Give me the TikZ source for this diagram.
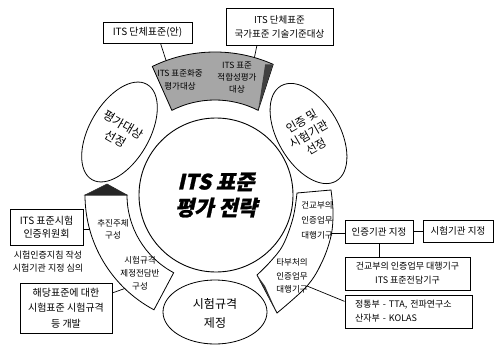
\documentclass[tikz,border=0pt]{standalone}
\usepackage{fontspec}
\setmainfont{Noto Sans CJK KR}
\newfontfamily\cjkbi[FakeSlant=0.22,FakeBold=1.2]{Noto Sans CJK KR}
\usetikzlibrary{shapes.geometric,calc}
\begin{document}
\begin{tikzpicture}[x=1pt,y=-1pt,
  line width=0.8pt,
  box/.style={draw, line width=0.9pt, inner sep=0pt, align=center, font=\fontsize{10}{13}\selectfont},
  seg/.style={draw, line width=0.8pt, fill=white},
  segtxt/.style={align=center, inner sep=0pt, font=\fontsize{8.5}{13.5}\selectfont},
  ell/.style={draw, ellipse, inner sep=0pt, line width=0.8pt},
  elltxt/.style={align=center, inner sep=0pt, font=\fontsize{12}{16}\selectfont},
  conn/.style={line width=0.7pt}
]
\useasboundingbox (0,0) rectangle (494,345);
\coordinate (C) at (215,195);

% top shaded band
\draw[seg, fill=black!35] ($(C)+(-116:143)$) arc[start angle=-116, end angle=-66, radius=143]
  -- ($(C)+(-63:95)$) arc[start angle=-63, end angle=-117, radius=95] -- cycle;
\fill[black!75] ($(C)+(-66:143)$) -- ($(C)+(-63:95)$) -- ($(C)+(-69:140)$) -- cycle;

% left segment
\draw[seg] ($(C)+(180:130)$) arc[start angle=180, end angle=118, radius=130]
  -- ($(C)+(118:88)$) arc[start angle=118, end angle=180, radius=88] -- cycle;
\filldraw[black!85, line width=0.6pt] ($(C)+(180:130)$) -- (107,184) -- ($(C)+(180:88)$) -- cycle;

% right segment
\draw[seg] plot[smooth, tension=0.6] coordinates {(331,190) (333,212) (331,236) (322,262) (307,286) (277,313)}
  -- plot[smooth, tension=0.6] coordinates {(257,275) (270,262) (283,245) (293,218) (297,193)} -- cycle;
\fill[black!80] (257,275) -- (277,313) -- (265,286) -- cycle;

% central circle
\node[draw, circle, minimum size=154pt, inner sep=0pt, line width=0.9pt, align=center,
  font=\cjkbi\bfseries\fontsize{21}{26}\selectfont] (core) at (216,195) {ITS 표준\\평가 전략};

% ellipses
\node[ell, minimum width=60pt, minimum height=110pt, rotate=-30] (e1) at (119.5,132) {};
\node[elltxt, rotate=-30] (t1) at (119.5,132) {평가대상\\선정};
\node[ell, minimum width=62pt, minimum height=110pt, rotate=30] (e2) at (308.5,133.5) {};
\node[elltxt, rotate=30, font=\fontsize{11.5}{14.5}\selectfont] (t2) at (309,134) {인증 및\\시험기관\\선정};
\node[ell, minimum width=104pt, minimum height=64pt] (e3) at (215,312) {};
\node[elltxt, font=\fontsize{12}{19}\selectfont] (t3) at (215,313) {시험규격\\제정};

% texts in segments
\node[segtxt, font=\fontsize{8.5}{12.5}\selectfont] (bt1) at (180,80) {ITS 표준화중\\평가대상};
\node[segtxt, font=\fontsize{8.5}{12}\selectfont] (bt2) at (237,78) {ITS 표준\\적합성평가\\대상};
\node[segtxt, font=\fontsize{8.5}{12}\selectfont] (lt1) at (113,229) {추진주체\\구성};
\node[segtxt, font=\fontsize{8.5}{13}\selectfont] (lt2) at (140,273) {시험규격\\제정전담반\\구성};
\node[segtxt, font=\fontsize{8.5}{15}\selectfont] (rt1) at (317,220) {건교부의\\인증업무\\대행기구};
\node[segtxt, font=\fontsize{8.5}{13.5}\selectfont] (rt2) at (292,276) {타부처의\\인증업무\\대행기구};

% boxes
\node[box, minimum width=89pt, minimum height=21pt] (box1) at (147.5,32.5) {ITS 단체표준(안)};
\node[box, minimum width=107pt, minimum height=37pt, font=\fontsize{9.5}{14}\selectfont] (box2) at (279.5,26.5) {ITS 단체표준\\국가표준 기술기준대상};
\node[box, minimum width=73pt, minimum height=36pt] (box3) at (46.5,227) {ITS 표준시험\\인증위원회};
\node[align=center, inner sep=0pt, font=\fontsize{9}{13}\selectfont] (note3) at (48,261.5) {시험인증지침 작성\\시험기관 지정 심의};
\node[box, minimum width=92pt, minimum height=50pt, font=\fontsize{10}{15.5}\selectfont] (box4) at (66,308) {해당표준에 대한\\시험표준 시험규격\\등 개발};
\node[box, minimum width=68pt, minimum height=23pt, font=\fontsize{9.5}{12}\selectfont] (box5) at (379,231.5) {인증기관 지정};
\node[box, minimum width=70pt, minimum height=22pt, font=\fontsize{9.5}{12}\selectfont] (box6) at (458,231) {시험기관 지정};
\node[box, minimum width=125pt, minimum height=33pt, font=\fontsize{9}{14}\selectfont] (box7) at (407.5,273.5) {건교부의 인증업무 대행기구\\ITS 표준전담기구};
\node[box, minimum width=127pt, minimum height=33pt, align=left, text width=107pt, font=\fontsize{9}{14}\selectfont] (box8) at (408.5,311.5) {정통부 - TTA, 전파연구소\\산자부 - KOLAS};

% connectors
\coordinate (p1) at ($(C)+(-110:143)$);
\coordinate (p2) at ($(C)+(-74:143)$);
\coordinate (p3) at ($(C)+(164.5:130)$);
\coordinate (p4) at ($(C)+(134:130)$);
\coordinate (p5) at (332,233);
\coordinate (p8) at (307,286);
\draw[conn] (box1.-40) -- (p1);
\draw[conn] (box2.-140) -- (p2);
\draw[conn] (box3.east |- p3) -- (p3);
\draw[conn] (box4.18) -- (p4);
\draw[conn] (p5) -- (box5.west |- p5);
\draw[conn] (box5.east) -- (box6.west |- box5.east);
\draw[conn] (box5.south) -- (box5.south |- box7.north);
\draw[conn] (p8) -- (box8.171);
\end{tikzpicture}
\end{document}
